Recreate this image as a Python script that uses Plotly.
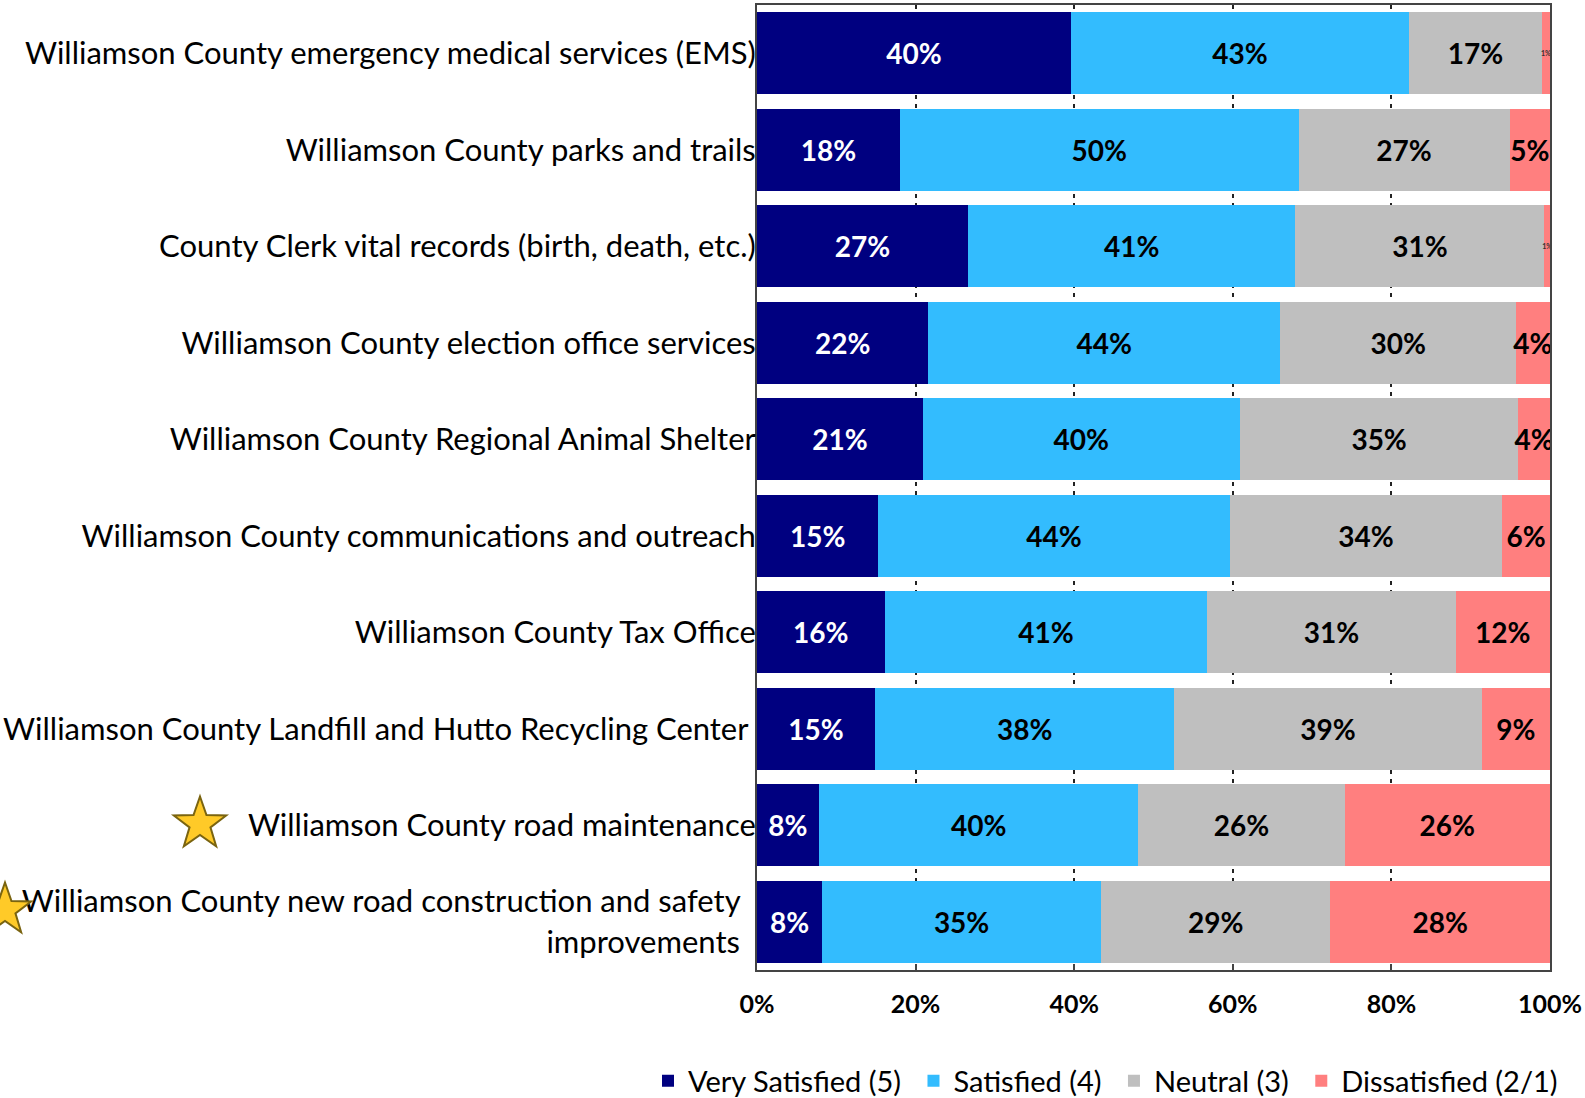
import math
import plotly.graph_objects as go

NB = "\u00a0"
categories = [
    "Williamson County emergency medical services (EMS)",
    "Williamson County parks and trails",
    "County Clerk vital records (birth, death, etc.)",
    "Williamson County election office services",
    "Williamson County Regional Animal Shelter",
    "Williamson County communications and outreach",
    "Williamson County Tax Office",
    "Williamson County Landfill and Hutto Recycling Center" + NB,
    "Williamson County road maintenance",
    "Williamson County new road construction and safety" + NB * 2 + "<br>improvements" + NB * 2,
]

very_satisfied = [39.6, 18.0, 26.6, 21.6, 20.9, 15.3, 16.1, 14.9, 7.8, 8.2]
satisfied = [42.6, 50.3, 41.3, 44.4, 40.0, 44.3, 40.7, 37.7, 40.3, 35.2]
neutral = [16.8, 26.6, 31.4, 29.7, 35.1, 34.4, 31.3, 38.8, 26.0, 28.9]
dissatisfied = [1.0, 5.1, 0.7, 4.3, 4.0, 6.0, 11.9, 8.6, 25.9, 27.7]

series_names = ["Very Satisfied (5)", "Satisfied (4)", "Neutral (3)", "Dissatisfied (2/1)"]
series_values = [very_satisfied, satisfied, neutral, dissatisfied]
series_colors = ["#000080", "#33BCFE", "#BFBFBF", "#FF7F7F"]
text_colors = ["white", "black", "black", "black"]

x_ticks = [0, 20, 40, 60, 80, 100]
x_ticklabels = ["0%", "20%", "40%", "60%", "80%", "100%"]

FONT = "Lato, 'Open Sans', sans-serif"

W, H = 1585, 1098
ML, MR, MT, MB = 757, 35, 5, 128
PW, PH = W - ML - MR, H - MT - MB

fig = go.Figure()
for i, (name, vals, color, tcolor) in enumerate(zip(series_names, series_values, series_colors, text_colors)):
    sizes = [7 if v < 2 else 28 for v in vals]
    colors = ["#333333" if v < 2 else tcolor for v in vals]
    legend_name = name + (NB if i < len(series_names) - 1 else "")
    fig.add_trace(go.Bar(
        y=categories, x=vals, name=legend_name, orientation="h",
        marker=dict(color=color, line=dict(width=0)),
        texttemplate="%{x:.0f}%", textposition="inside", textangle=0,
        insidetextanchor="middle", constraintext="none",
        textfont=dict(family=FONT, color=colors, size=sizes, weight="bold"),
        hoverinfo="skip",
    ))


# decorative stars beside the highlighted categories (pixel geometry -> paper coords)
def star_path(cx, cy, r_out, r_in=0.4):
    pts = []
    for k in range(10):
        r = r_out if k % 2 == 0 else r_out * r_in
        a = math.radians(-90 + 36 * k)
        px = cx + r * math.cos(a)
        py = cy + r * math.sin(a)
        pts.append(((px - ML) / PW, (H - MB - py) / PH))
    return "M " + " L ".join(f"{x:.5f},{y:.5f}" for x, y in pts) + " Z"


for cx, cy in [(200, 824), (5, 910)]:
    fig.add_shape(type="path", path=star_path(cx, cy, 27.5), xref="paper", yref="paper",
                  fillcolor="#FFCA28", line=dict(color="#7A6410", width=2), layer="above")

fig.update_layout(
    width=W, height=H,
    barmode="stack", bargap=0.15,
    paper_bgcolor="white", plot_bgcolor="white",
    margin=dict(l=ML, r=MR, t=MT, b=MB, autoexpand=False),
    font=dict(family=FONT, color="black"),
    legend=dict(orientation="h", x=(648 - ML) / PW, xanchor="left",
                y=-(1081 - (H - MB)) / PH, yanchor="middle",
                font=dict(size=29, family=FONT), traceorder="normal",
                itemwidth=30, tracegroupgap=0, bgcolor="rgba(0,0,0,0)"),
    xaxis=dict(range=[0, 100], tickvals=x_ticks, ticktext=x_ticklabels,
               tickfont=dict(size=25, family=FONT, weight="bold"),
               showgrid=True, gridcolor="#222222", gridwidth=2, griddash="4px,5px",
               showline=True, linecolor="#444444", linewidth=2, mirror=True,
               ticks="inside", ticklen=6, tickcolor="#444444", tickwidth=2,
               ticklabelstandoff=11, zeroline=False, fixedrange=True, automargin=False),
    yaxis=dict(type="category", categoryorder="array", categoryarray=categories,
               range=[9.5, -0.5], tickfont=dict(size=31, family=FONT),
               showline=True, linecolor="#444444", linewidth=2, mirror=True,
               ticks="", ticklen=0, ticklabelstandoff=-7, showgrid=False, fixedrange=True,
               automargin=False),
)

# remove the browser's default 8px page margin so the figure sits at the page origin
fig.write_html("out.html", config={"displayModeBar": False},
               post_script="document.body.style.margin='0';")
